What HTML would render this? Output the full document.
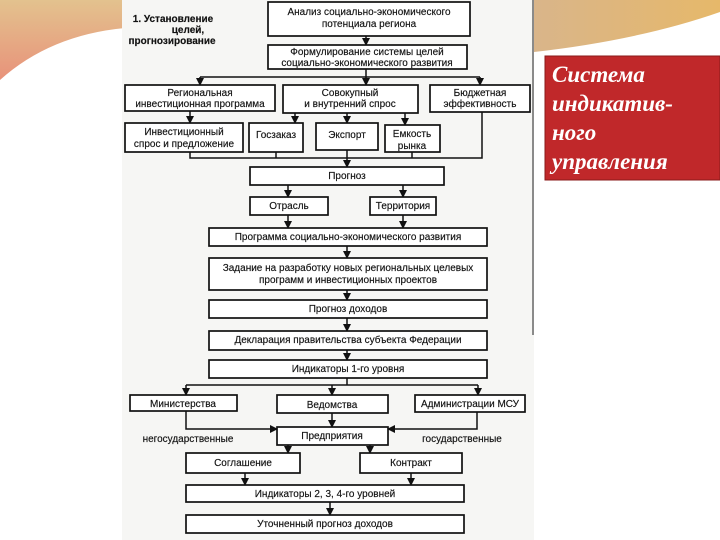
<!DOCTYPE html>
<html><head><meta charset="utf-8"><style>
html,body{margin:0;padding:0;background:#fff;}
svg{display:block;}
text{font-family:"Liberation Sans",sans-serif;font-size:10px;fill:#111;text-anchor:middle;stroke:#111;stroke-width:0.15;}
.b{fill:#fff;stroke:#111;stroke-width:1.7;}
.l{stroke:#111;stroke-width:1.5;fill:none;}
.r{font-family:"Liberation Serif",serif;font-style:italic;font-weight:bold;font-size:23px;fill:#fff;stroke:none;text-anchor:start;}
</style></head><body>
<svg width="720" height="540" viewBox="0 0 720 540">
<defs>
<linearGradient id="g1" x1="0" y1="0" x2="0" y2="1"><stop offset="0" stop-color="#e3c28e"/><stop offset="1" stop-color="#e8927a"/></linearGradient>
<linearGradient id="g2" x1="0" y1="0" x2="1" y2="0"><stop offset="0" stop-color="#d9b58a"/><stop offset="1" stop-color="#e6b86a"/></linearGradient>
<marker id="a" markerWidth="8" markerHeight="8" refX="7" refY="4" orient="auto" markerUnits="userSpaceOnUse"><path d="M0,0 L8,4 L0,8 Z" fill="#111"/></marker>
</defs>
<path d="M0,0 H125 V28 Q50,35 0,80 Z" fill="url(#g1)"/>
<path d="M534,0 H720 V12 Q640,40 534,52 Z" fill="url(#g2)"/>
<rect x="122" y="0" width="412" height="540" fill="#f6f6f4"/>
<line x1="533" y1="0" x2="533" y2="335" stroke="#444" stroke-width="1.2"/>
<rect x="545" y="56" width="175" height="124" fill="#c0282a" stroke="#8a1a1a"/>
<text class="r" x="552" y="82">Система</text>
<text class="r" x="552" y="111">индикатив-</text>
<text class="r" x="552" y="140">ного</text>
<text class="r" x="552" y="169">управления</text>

<text x="173" y="22" style="font-weight:bold;font-size:10px">1. Установление</text>
<text x="188" y="33" style="font-weight:bold;font-size:10px">целей,</text>
<text x="172" y="44" style="font-weight:bold;font-size:10px">прогнозирование</text>

<rect class="b" x="268" y="2" width="202" height="34"/>
<text x="369" y="15">Анализ социально-экономического</text>
<text x="369" y="27">потенциала региона</text>
<path class="l" d="M366,36 V45" marker-end="url(#a)"/>
<rect class="b" x="268" y="45" width="199" height="24"/>
<text x="367" y="55">Формулирование системы целей</text>
<text x="367" y="66">социально-экономического развития</text>
<path class="l" d="M366,69 V77 M200,77 H480"/>
<path class="l" d="M200,77 V85" marker-end="url(#a)"/>
<path class="l" d="M366,77 V85" marker-end="url(#a)"/>
<path class="l" d="M480,77 V85" marker-end="url(#a)"/>

<rect class="b" x="125" y="85" width="150" height="26"/>
<text x="200" y="96">Региональная</text><text x="200" y="107">инвестиционная программа</text>
<rect class="b" x="283" y="85" width="135" height="28"/>
<text x="350" y="96">Совокупный</text><text x="350" y="107">и внутренний спрос</text>
<rect class="b" x="430" y="85" width="100" height="27"/>
<text x="480" y="96">Бюджетная</text><text x="480" y="107">эффективность</text>

<path class="l" d="M190,111 V123" marker-end="url(#a)"/>
<path class="l" d="M295,113 V123" marker-end="url(#a)"/>
<path class="l" d="M347,113 V123" marker-end="url(#a)"/>
<path class="l" d="M405,113 V125" marker-end="url(#a)"/>

<rect class="b" x="125" y="123" width="118" height="29"/>
<text x="184" y="135">Инвестиционный</text><text x="184" y="147">спрос и предложение</text>
<rect class="b" x="249" y="123" width="54" height="29"/>
<text x="276" y="138">Госзаказ</text>
<rect class="b" x="316" y="123" width="62" height="27"/>
<text x="347" y="138">Экспорт</text>
<rect class="b" x="385" y="125" width="55" height="27"/>
<text x="412" y="137">Емкость</text><text x="412" y="149">рынка</text>

<path class="l" d="M190,152 V158 H482 V112 M276,152 V158 M347,150 V158 M412,152 V158"/>
<path class="l" d="M347,158 V167" marker-end="url(#a)"/>
<rect class="b" x="250" y="167" width="194" height="18"/>
<text x="347" y="179">Прогноз</text>
<path class="l" d="M288,185 V197" marker-end="url(#a)"/>
<path class="l" d="M403,185 V197" marker-end="url(#a)"/>
<rect class="b" x="250" y="197" width="78" height="18"/>
<text x="289" y="209">Отрасль</text>
<rect class="b" x="370" y="197" width="66" height="18"/>
<text x="403" y="209">Территория</text>
<path class="l" d="M288,215 V228" marker-end="url(#a)"/>
<path class="l" d="M403,215 V228" marker-end="url(#a)"/>

<rect class="b" x="209" y="228" width="278" height="18"/>
<text x="348" y="240">Программа социально-экономического развития</text>
<path class="l" d="M347,246 V258" marker-end="url(#a)"/>
<rect class="b" x="209" y="258" width="278" height="32"/>
<text x="348" y="271">Задание на разработку новых региональных целевых</text>
<text x="348" y="283">программ и инвестиционных проектов</text>
<path class="l" d="M347,290 V300" marker-end="url(#a)"/>
<rect class="b" x="209" y="300" width="278" height="18"/>
<text x="348" y="312">Прогноз доходов</text>
<path class="l" d="M347,318 V331" marker-end="url(#a)"/>
<rect class="b" x="209" y="331" width="278" height="19"/>
<text x="348" y="343">Декларация правительства субъекта Федерации</text>
<path class="l" d="M347,350 V360" marker-end="url(#a)"/>
<rect class="b" x="209" y="360" width="278" height="18"/>
<text x="348" y="372">Индикаторы 1-го уровня</text>
<path class="l" d="M347,378 V385 M186,385 H478"/>
<path class="l" d="M186,385 V395" marker-end="url(#a)"/>
<path class="l" d="M332,385 V395" marker-end="url(#a)"/>
<path class="l" d="M478,385 V395" marker-end="url(#a)"/>

<rect class="b" x="130" y="395" width="107" height="16"/>
<text x="183" y="407">Министерства</text>
<rect class="b" x="277" y="395" width="111" height="18"/>
<text x="332" y="408">Ведомства</text>
<rect class="b" x="415" y="395" width="110" height="17"/>
<text x="470" y="407">Администрации МСУ</text>

<path class="l" d="M186,411 V429 H277" marker-end="url(#a)"/>
<path class="l" d="M477,412 V429 H388" marker-end="url(#a)"/>
<path class="l" d="M332,413 V427" marker-end="url(#a)"/>
<text x="188" y="442">негосударственные</text>
<text x="462" y="442">государственные</text>
<rect class="b" x="277" y="427" width="111" height="18"/>
<text x="332" y="439">Предприятия</text>
<path class="l" d="M288,445 V453" marker-end="url(#a)"/>
<path class="l" d="M370,445 V453" marker-end="url(#a)"/>
<rect class="b" x="186" y="453" width="114" height="20"/>
<text x="243" y="466">Соглашение</text>
<rect class="b" x="360" y="453" width="102" height="20"/>
<text x="411" y="466">Контракт</text>
<path class="l" d="M245,473 V485" marker-end="url(#a)"/>
<path class="l" d="M411,473 V485" marker-end="url(#a)"/>
<rect class="b" x="186" y="485" width="278" height="17"/>
<text x="325" y="497">Индикаторы 2, 3, 4-го уровней</text>
<path class="l" d="M330,502 V515" marker-end="url(#a)"/>
<rect class="b" x="186" y="515" width="278" height="18"/>
<text x="325" y="527">Уточненный прогноз доходов</text>
</svg>
</body></html>
